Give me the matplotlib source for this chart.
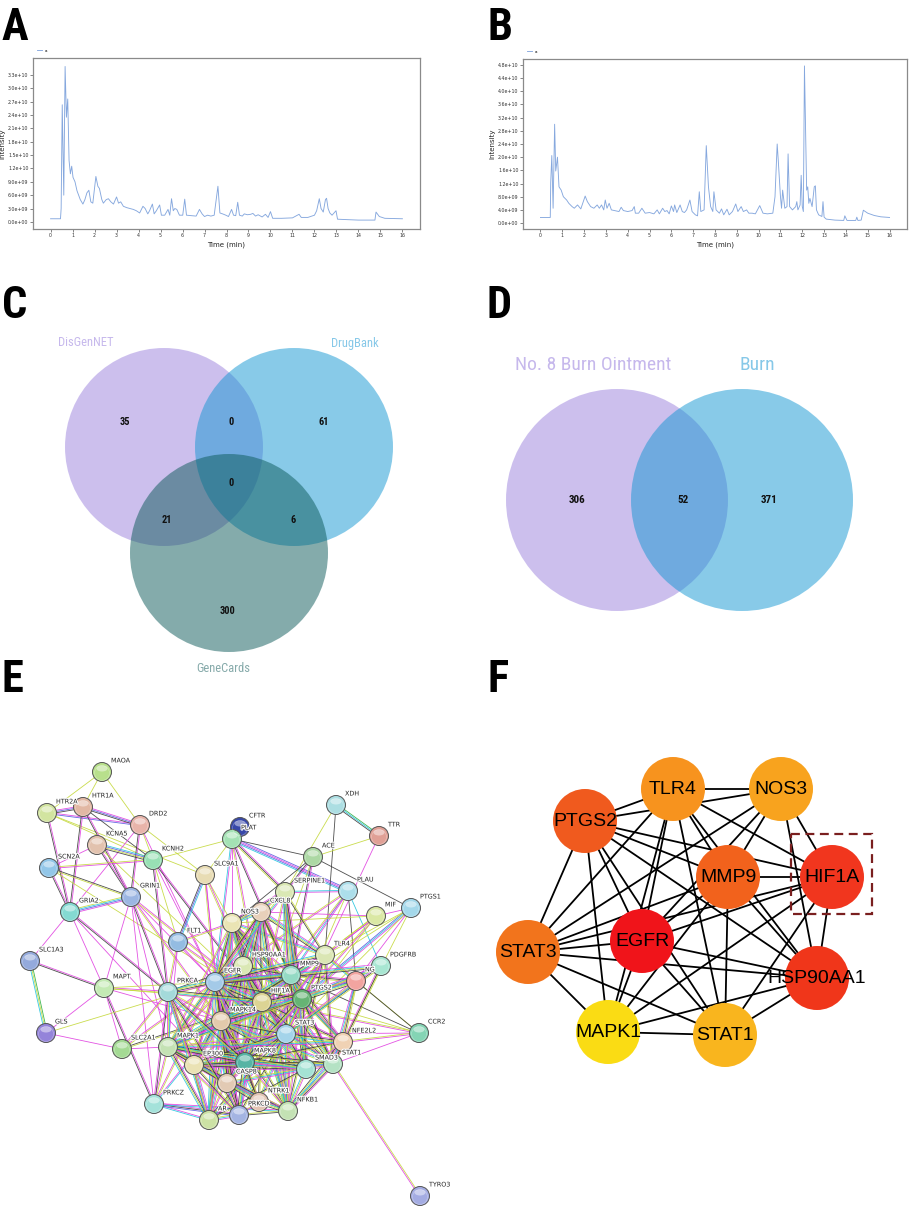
import numpy as np
import matplotlib
matplotlib.use("Agg")
import matplotlib.pyplot as plt
from matplotlib.patches import Circle, Rectangle, Ellipse
from matplotlib.collections import LineCollection
from matplotlib.ticker import FuncFormatter
from matplotlib import font_manager as fm
import matplotlib.patheffects as pe

# ---------------- DATA ----------------
# Panel A chromatogram (time in min, intensity in 1e9)
A_time = [0.0, 0.45, 0.48, 0.53, 0.6, 0.66, 0.72, 0.78, 0.84, 0.9, 0.96, 1.02, 1.11, 1.2, 1.35, 1.47, 1.56,
          1.65, 1.74, 1.83, 1.92, 2.06, 2.15, 2.22, 2.33, 2.4, 2.53, 2.63, 2.74, 2.86, 3.0, 3.09, 3.19, 3.31,
          3.46, 3.61, 3.76, 3.9, 4.05, 4.2, 4.3, 4.42, 4.5, 4.63, 4.71, 4.81, 4.96, 5.04, 5.19, 5.34, 5.42,
          5.5, 5.58, 5.65, 5.74, 5.86, 6.01, 6.1, 6.18, 6.39, 6.62, 6.77, 6.89, 7.0, 7.14, 7.29, 7.44, 7.61,
          7.7, 7.82, 7.97, 8.09, 8.23, 8.32, 8.42, 8.51, 8.59, 8.72, 8.81, 8.95, 9.1, 9.2, 9.32, 9.44, 9.62,
          9.77, 9.89, 10.0, 10.1, 10.5, 11.0, 11.3, 11.4, 11.7, 12.0, 12.1, 12.22, 12.3, 12.4, 12.5, 12.55,
          12.62, 12.7, 12.8, 12.98, 13.05, 13.5, 14.0, 14.5, 14.75, 14.8, 14.95, 15.2, 16.0]
A_int = [0.7, 0.7, 3.0, 26.3, 6.0, 34.9, 23.5, 27.6, 13.8, 10.8, 12.5, 10.0, 9.0, 7.0, 5.0, 4.0, 5.0,
         6.5, 7.1, 4.5, 4.2, 10.2, 8.0, 7.5, 5.0, 4.2, 5.0, 5.2, 4.5, 4.0, 5.6, 4.2, 4.5, 3.5,
         3.2, 3.0, 2.8, 2.5, 2.0, 3.5, 3.0, 1.8, 2.5, 4.0, 1.8, 2.5, 3.8, 1.5, 1.5, 2.8, 1.5,
         5.2, 2.5, 3.0, 2.8, 1.5, 1.5, 5.1, 1.5, 1.4, 1.3, 2.8, 1.8, 1.2, 1.5, 1.3, 1.5, 8.0,
         2.0, 1.8, 1.5, 1.2, 2.8, 1.5, 1.4, 4.4, 1.5, 1.3, 1.8, 1.6, 1.7, 1.9, 1.3, 1.6, 1.1,
         1.7, 1.0, 2.3, 0.8, 0.8, 0.9, 1.7, 1.0, 1.0, 1.5, 2.5, 5.2, 3.0, 2.2, 5.0, 5.3,
         3.0, 2.0, 1.5, 2.5, 0.6, 0.5, 0.4, 0.4, 0.4, 2.2, 1.2, 0.8, 0.7]

# Panel B chromatogram
B_time = [0.0, 0.45, 0.47, 0.52, 0.58, 0.65, 0.7, 0.78, 0.85, 0.95, 1.05, 1.2, 1.3, 1.45, 1.55, 1.7, 1.85,
          2.05, 2.15, 2.3, 2.45, 2.6, 2.7, 2.8, 2.9, 2.97, 3.05, 3.15, 3.25, 3.4, 3.6, 3.7, 3.8, 4.0, 4.2,
          4.3, 4.35, 4.5, 4.65, 4.8, 5.0, 5.2, 5.35, 5.45, 5.6, 5.7, 5.8, 5.9, 6.0, 6.1, 6.15, 6.25, 6.4,
          6.5, 6.6, 6.7, 6.85, 6.95, 7.1, 7.2, 7.28, 7.35, 7.5, 7.6, 7.7, 7.8, 7.9, 7.95, 8.05, 8.2, 8.3,
          8.4, 8.55, 8.65, 8.8, 8.95, 9.05, 9.2, 9.3, 9.45, 9.55, 9.7, 9.85, 10.05, 10.2, 10.4, 10.65,
          10.75, 10.85, 10.9, 11.0, 11.05, 11.1, 11.2, 11.3, 11.35, 11.42, 11.55, 11.7, 11.75, 11.8, 11.9,
          11.95, 12.0, 12.05, 12.1, 12.2, 12.25, 12.3, 12.35, 12.45, 12.55, 12.6, 12.65, 12.75, 12.9,
          12.95, 13.0, 13.1, 13.5, 13.9, 13.95, 14.05, 14.45, 14.5, 14.55, 14.7, 14.8, 15.0, 15.3, 15.6, 16.0]
B_int = [1.7, 1.7, 12.2, 20.5, 4.5, 30.0, 15.8, 20.0, 11.0, 10.0, 8.0, 7.0, 6.0, 5.0, 4.5, 5.5, 4.3,
         8.2, 6.5, 5.0, 4.5, 5.5, 4.5, 5.5, 4.0, 7.0, 4.5, 6.0, 4.0, 3.8, 3.5, 4.8, 3.8, 3.5, 3.8,
         5.0, 3.0, 3.0, 4.5, 3.0, 3.2, 2.8, 4.0, 2.8, 4.5, 3.5, 3.8, 2.8, 5.2, 3.5, 5.5, 3.2, 5.5,
         3.5, 3.2, 4.0, 7.0, 3.5, 2.5, 2.2, 9.5, 3.5, 4.0, 23.5, 11.0, 5.0, 3.5, 9.5, 4.0, 3.0, 4.3,
         2.5, 4.2, 2.5, 3.5, 5.8, 3.5, 5.0, 3.5, 4.0, 3.0, 3.0, 2.8, 5.3, 3.0, 2.8, 3.0,
         8.0, 24.0, 19.0, 8.0, 4.5, 10.0, 4.5, 5.0, 21.0, 5.0, 4.0, 5.0, 6.5, 4.0, 5.5,
         14.5, 5.0, 3.5, 47.7, 10.0, 11.0, 6.0, 7.5, 5.0, 11.0, 11.3, 4.0, 2.5, 2.0,
         6.5, 1.8, 1.2, 0.9, 0.8, 2.2, 0.8, 0.8, 1.8, 0.8, 0.9, 3.9, 3.0, 2.3, 1.9, 1.7]

x_ticks = list(range(17))
A_yticks = [0, 3e9, 6e9, 9e9, 1.2e10, 1.5e10, 1.8e10, 2.1e10, 2.4e10, 2.7e10, 3.0e10, 3.3e10]
B_yticks = [0, 4e9, 8e9, 1.2e10, 1.6e10, 2.0e10, 2.4e10, 2.8e10, 3.2e10, 3.6e10, 4.0e10, 4.4e10, 4.8e10]

# Panel C Venn (3 sets)
C_sets = ["DisGenNET", "DrugBank", "GeneCards"]
C_counts = {"1": 35, "2": 61, "3": 300, "12": 0, "13": 21, "23": 6, "123": 0}
# Panel D Venn (2 sets)
D_sets = ["No. 8 Burn Ointment", "Burn"]
D_counts = {"1": 306, "12": 52, "2": 371}

# Panel E STRING network
E_nodes = ["MAOA", "HTR1A", "HTR2A", "DRD2", "KCNA5", "KCNH2", "SCN2A", "GRIN1", "GRIA2", "SLC9A1",
           "FLT1", "SLC1A3", "CFTR", "PLAT", "XDH", "TTR", "ACE", "SERPINE1", "PLAU", "PTGS1", "MIF",
           "CXCL8", "NOS3", "TLR4", "PDGFRB", "HSP90AA1", "MMP9", "EGFR", "NG", "HIF1A", "PTGS2",
           "MAPK14", "STAT3", "NFE2L2", "CCR2", "STAT1", "SMAD3", "MAPK8", "CASP8", "EP300", "MAPK1",
           "SLC2A1", "PRKCA", "MAPT", "GLS", "PRKCZ", "AR", "PRKCD", "NTRK1", "NFKB1", "TYRO3"]
E_x = [102, 83, 47, 140, 97, 153, 49, 131, 70, 205,
       178, 30, 240, 232, 336, 379, 313, 285, 348, 411, 376,
       261, 232, 325, 381, 243, 291, 215, 356, 262, 302,
       221, 286, 343, 419, 333, 306, 245, 227, 194, 168,
       122, 168, 104, 46, 154, 209, 239, 259, 288, 420]
E_y = [772, 807, 813, 825, 845, 860, 868, 897, 912, 875,
       942, 961, 827, 839, 805, 836, 857, 892, 891, 908, 916,
       912, 923, 955, 966, 966, 975, 982, 981, 1002, 999,
       1021, 1034, 1042, 1033, 1064, 1069, 1062, 1083, 1065, 1047,
       1049, 992, 988, 1033, 1104, 1120, 1115, 1102, 1111, 1196]
E_colors = ["#b8e08c", "#e2b8a4", "#d2e4a0", "#e8b4aa", "#e2c2ae", "#98e0b4", "#92c6e8", "#9cb6e2", "#84dad2", "#e8dcb4",
            "#94bce2", "#94aadc", "#3848a8", "#a4e2b4", "#acdee2", "#e0a096", "#acd8a4", "#dae8b4", "#acdeea", "#a4d8ea", "#dae8a4",
            "#e8d0ba", "#eae4b4", "#dae6b4", "#a8e6d2", "#dae8b4", "#94dac4", "#a4cae8", "#f2a4a0", "#dcd494", "#66b474",
            "#e2caac", "#a4d4ea", "#f0d2b4", "#84d4b4", "#b4e2c4", "#a4e2d4", "#56b4a4", "#e2cab4", "#eae2b4", "#c4e2b4",
            "#a4da94", "#a4dada", "#c4eab4", "#9484da", "#a4e2da", "#cce2a4", "#a4b4e2", "#e2c4b4", "#c4e2b4", "#a4ace2"]

E_edges_periph = [
    ("MAOA", "HTR2A", "y"), ("MAOA", "HTR1A", "y"), ("MAOA", "DRD2", "y"),
    ("HTR2A", "HTR1A", "mbk"), ("HTR2A", "DRD2", "mb"), ("HTR1A", "DRD2", "mbk"),
    ("HTR2A", "GRIA2", "mk"), ("HTR2A", "KCNH2", "y"), ("HTR2A", "SLC9A1", "y"),
    ("HTR1A", "GRIA2", "mk"), ("HTR1A", "GRIN1", "mk"), ("HTR1A", "KCNH2", "k"),
    ("DRD2", "GRIN1", "mk"), ("DRD2", "GRIA2", "m"), ("DRD2", "KCNH2", "y"), ("DRD2", "SLC9A1", "y"), ("DRD2", "EGFR", "m"),
    ("KCNA5", "KCNH2", "cbyk"), ("KCNA5", "SCN2A", "m"), ("KCNA5", "GRIN1", "mk"), ("KCNA5", "HIF1A", "y"),
    ("KCNH2", "SCN2A", "my"), ("KCNH2", "PLAT", "y"), ("KCNH2", "EGFR", "m"), ("KCNH2", "HIF1A", "mk"),
    ("KCNH2", "FLT1", "y"), ("KCNH2", "PRKCA", "mk"),
    ("SCN2A", "GRIA2", "mk"), ("SCN2A", "GRIN1", "ky"), ("SCN2A", "HIF1A", "y"),
    ("GRIN1", "GRIA2", "mbcy"), ("GRIN1", "MAPT", "m"), ("GRIN1", "EGFR", "m"), ("GRIN1", "HIF1A", "my"),
    ("GRIN1", "PRKCA", "mk"), ("GRIN1", "MAPK1", "m"), ("GRIN1", "PRKCZ", "m"), ("GRIN1", "MAPK14", "my"),
    ("GRIA2", "MAPT", "m"), ("GRIA2", "SLC1A3", "m"), ("GRIA2", "PRKCA", "mk"), ("GRIA2", "CASP8", "m"),
    ("SLC1A3", "MAPT", "mk"), ("SLC1A3", "GLS", "gyc"),
    ("MAPT", "GLS", "m"), ("MAPT", "PRKCA", "my"), ("MAPT", "PRKCZ", "mk"), ("MAPT", "EGFR", "y"),
    ("MAPT", "SLC2A1", "m"), ("MAPT", "MAPK14", "m"), ("MAPT", "HIF1A", "y"),
    ("GLS", "SLC2A1", "m"), ("GLS", "EGFR", "y"),
    ("SLC2A1", "HIF1A", "ky"), ("SLC2A1", "MAPK1", "m"), ("SLC2A1", "PRKCA", "my"), ("SLC2A1", "EGFR", "my"),
    ("PRKCZ", "MAPK1", "my"), ("PRKCZ", "PRKCA", "mk"), ("PRKCZ", "EGFR", "my"), ("PRKCZ", "AR", "mc"),
    ("PRKCZ", "PRKCD", "mkb"), ("PRKCZ", "NFKB1", "mc"), ("PRKCZ", "MAPK14", "mc"),
    ("CFTR", "PLAT", "m"),
    ("PLAT", "SERPINE1", "mky"), ("PLAT", "PLAU", "bmbc"), ("PLAT", "NOS3", "m"), ("PLAT", "ACE", "k"),
    ("PLAT", "SLC9A1", "y"), ("PLAT", "MMP9", "mk"), ("PLAT", "HIF1A", "my"), ("PLAT", "EGFR", "mc"),
    ("XDH", "TTR", "gck"), ("XDH", "SERPINE1", "y"), ("XDH", "TLR4", "k"),
    ("TTR", "ACE", "y"), ("TTR", "STAT3", "m"),
    ("ACE", "PTGS1", "k"), ("ACE", "SERPINE1", "mk"), ("ACE", "NOS3", "k"), ("ACE", "HIF1A", "y"), ("ACE", "MMP9", "mk"),
    ("PLAU", "SERPINE1", "mc"), ("PLAU", "MMP9", "mc"), ("PLAU", "EGFR", "my"), ("PLAU", "HIF1A", "my"),
    ("PLAU", "PDGFRB", "c"), ("PLAU", "STAT3", "y"), ("PLAU", "NG", "k"),
    ("PTGS1", "PTGS2", "mcb"), ("PTGS1", "MIF", "m"), ("PTGS1", "TLR4", "y"), ("PTGS1", "NG", "m"),
    ("PTGS1", "HIF1A", "y"), ("PTGS1", "STAT3", "y"), ("PTGS1", "NFE2L2", "y"),
    ("MIF", "TLR4", "my"), ("MIF", "CXCL8", "m"), ("MIF", "PTGS2", "my"), ("MIF", "NOS3", "y"),
    ("MIF", "STAT3", "y"), ("MIF", "HIF1A", "my"),
    ("CCR2", "STAT3", "m"), ("CCR2", "MMP9", "k"), ("CCR2", "HIF1A", "my"), ("CCR2", "TLR4", "y"),
    ("CCR2", "STAT1", "m"), ("CCR2", "NG", "k"), ("CCR2", "PTGS2", "y"), ("CCR2", "NFE2L2", "my"),
    ("TYRO3", "STAT1", "my"),
    ("SLC9A1", "NOS3", "y"), ("SLC9A1", "FLT1", "cbk"), ("SLC9A1", "HIF1A", "my"), ("SLC9A1", "EGFR", "my"),
    ("SLC9A1", "MAPK14", "m"),
    ("FLT1", "EGFR", "m"), ("FLT1", "HIF1A", "my"), ("FLT1", "NOS3", "my"), ("FLT1", "MAPK1", "m"), ("FLT1", "PRKCA", "my"),
]

E_core_adj = {
    "NOS3": ["HSP90AA1", "EGFR", "HIF1A", "MMP9", "PTGS2", "STAT3", "TLR4", "MAPK14", "CXCL8", "SERPINE1",
             "MAPK1", "STAT1", "NFE2L2", "CASP8", "EP300", "AR", "NFKB1"],
    "CXCL8": ["SERPINE1", "TLR4", "HIF1A", "MMP9", "PTGS2", "STAT3", "NFKB1", "EGFR", "MAPK14", "STAT1",
              "MAPK8", "MAPK1", "HSP90AA1", "CASP8"],
    "SERPINE1": ["HIF1A", "MMP9", "TLR4", "EGFR", "SMAD3", "STAT3", "PTGS2"],
    "HSP90AA1": ["EGFR", "HIF1A", "MMP9", "PTGS2", "STAT3", "MAPK14", "EP300", "MAPK1", "AR", "PRKCA",
                 "NFKB1", "CASP8", "MAPK8"],
    "MMP9": ["EGFR", "HIF1A", "PTGS2", "STAT3", "TLR4", "NG", "MAPK14", "MAPK1", "NFKB1", "SMAD3", "MAPK8",
             "STAT1", "NFE2L2"],
    "TLR4": ["HIF1A", "PTGS2", "STAT3", "MAPK14", "NFKB1", "MAPK8", "STAT1", "NG", "EGFR", "CASP8"],
    "EGFR": ["HIF1A", "PTGS2", "STAT3", "MAPK14", "MAPK1", "PRKCA", "EP300", "MAPK8", "STAT1", "SMAD3",
             "PRKCD", "AR", "CASP8", "NTRK1", "PDGFRB", "NFKB1"],
    "HIF1A": ["PTGS2", "STAT3", "MAPK14", "MAPK1", "EP300", "MAPK8", "STAT1", "SMAD3", "NFE2L2", "NFKB1",
              "CASP8", "AR", "PRKCA", "NTRK1", "PRKCD", "NG"],
    "PTGS2": ["STAT3", "MAPK14", "NFKB1", "MAPK8", "MAPK1", "NFE2L2", "STAT1", "PDGFRB", "SMAD3", "CASP8", "NG"],
    "MAPK14": ["STAT3", "MAPK1", "MAPK8", "EP300", "CASP8", "PRKCA", "SMAD3", "NFKB1", "STAT1", "PRKCD",
               "AR", "NTRK1"],
    "STAT3": ["MAPK1", "EP300", "MAPK8", "STAT1", "SMAD3", "NFKB1", "NFE2L2", "CASP8", "AR", "PRKCD", "NTRK1",
              "PDGFRB", "NG"],
    "NFE2L2": ["STAT1", "SMAD3", "NFKB1", "MAPK8", "MAPK1", "NG"],
    "STAT1": ["SMAD3", "NFKB1", "MAPK8", "EP300", "MAPK1", "NG", "PDGFRB"],
    "SMAD3": ["NFKB1", "EP300", "MAPK8", "MAPK1", "AR", "CASP8"],
    "MAPK8": ["EP300", "CASP8", "MAPK1", "NFKB1", "PRKCD", "NTRK1"],
    "CASP8": ["EP300", "NFKB1", "MAPK1", "PRKCD"],
    "EP300": ["MAPK1", "AR", "PRKCD", "NFKB1", "PRKCA"],
    "MAPK1": ["PRKCA", "AR", "PRKCD", "NTRK1", "NFKB1", "PDGFRB"],
    "PRKCA": ["PRKCD", "AR", "MAPK8"],
    "NTRK1": ["PRKCD", "NFKB1"],
    "PRKCD": ["NFKB1", "AR"],
}

# Panel F hub network
F_nodes = ["TLR4", "NOS3", "PTGS2", "MMP9", "HIF1A", "STAT3", "EGFR", "HSP90AA1", "MAPK1", "STAT1"]
F_colors = ["#F7931E", "#F8A31E", "#F05A1E", "#F2621C", "#F1361E", "#F2741C", "#F0141A", "#F0361A", "#FADC14", "#F9B51E"]
F_x = [673, 781, 585, 728, 832, 528, 642, 817, 608, 725]
F_y = [789, 789, 821, 877, 877, 952, 941, 978, 1032, 1035]
F_edges = [
    ("TLR4", "NOS3"), ("TLR4", "PTGS2"), ("TLR4", "MMP9"), ("TLR4", "HIF1A"), ("TLR4", "HSP90AA1"),
    ("TLR4", "STAT3"), ("TLR4", "EGFR"), ("TLR4", "STAT1"), ("TLR4", "MAPK1"),
    ("NOS3", "PTGS2"), ("NOS3", "MMP9"), ("NOS3", "HIF1A"), ("NOS3", "HSP90AA1"), ("NOS3", "STAT3"), ("NOS3", "EGFR"),
    ("PTGS2", "MMP9"), ("PTGS2", "HIF1A"), ("PTGS2", "HSP90AA1"), ("PTGS2", "EGFR"), ("PTGS2", "STAT3"),
    ("PTGS2", "MAPK1"), ("PTGS2", "STAT1"),
    ("MMP9", "HIF1A"), ("MMP9", "STAT3"), ("MMP9", "EGFR"), ("MMP9", "HSP90AA1"), ("MMP9", "STAT1"), ("MMP9", "MAPK1"),
    ("HIF1A", "STAT3"), ("HIF1A", "EGFR"), ("HIF1A", "HSP90AA1"), ("HIF1A", "MAPK1"), ("HIF1A", "STAT1"),
    ("STAT3", "EGFR"), ("STAT3", "HSP90AA1"), ("STAT3", "MAPK1"), ("STAT3", "STAT1"),
    ("EGFR", "HSP90AA1"), ("EGFR", "MAPK1"), ("EGFR", "STAT1"),
    ("HSP90AA1", "MAPK1"), ("HSP90AA1", "STAT1"),
    ("MAPK1", "STAT1"),
]
F_highlight = "HIF1A"

# ---------------- FONTS ----------------
def first_font(cands):
    for c in cands:
        try:
            fm.findfont(fm.FontProperties(family=c), fallback_to_default=False)
            return c
        except Exception:
            pass
    return None


NARROW_NAME = first_font(["Liberation Sans Narrow", "Roboto Condensed", "Noto Sans Condensed",
                          "Open Sans Condensed", "DejaVu Sans Condensed", "Noto Sans Display Condensed"])
if NARROW_NAME is None:
    NARROW = ["Roboto", "DejaVu Sans"]
    NSCALE = 0.86
else:
    NARROW = [NARROW_NAME, "DejaVu Sans"]
    NSCALE = 1.0

# ---------------- FIGURE ----------------
W, H = 913, 1211
fig = plt.figure(figsize=(W / 100, H / 100), dpi=100)


def px_axes(x0, y0, x1, y1):
    return fig.add_axes([x0 / W, 1 - y1 / H, (x1 - x0) / W, (y1 - y0) / H])


def chrom(ax, t, v, yticks, ylim):
    ax.plot(t, np.array(v) * 1e9, color="#86A8DE", lw=0.65, label="a")
    ax.set_xlim(-0.8, 16.8)
    ax.set_ylim(*ylim)
    ax.set_xticks(x_ticks)
    ax.set_yticks(yticks)
    ax.yaxis.set_major_formatter(FuncFormatter(lambda val, p: f"{val:.1e}"))
    for s in ax.spines.values():
        s.set_color("#8a8a8a")
        s.set_linewidth(0.9)
    ax.tick_params(labelsize=3.4, length=2, width=0.5, color="#555555", pad=1.2, labelcolor="#333333")
    ax.set_xlabel("Time (min)", fontsize=5, labelpad=2, color="#222222")
    ax.set_ylabel("Intensity", fontsize=5, labelpad=1.5, color="#222222")
    ax.legend(loc="lower left", bbox_to_anchor=(0.0, 1.01), fontsize=3, frameon=False,
              handlelength=1.2, borderaxespad=0.5)


axA = px_axes(33, 58, 420, 229)
chrom(axA, A_time, A_int, A_yticks, (-1.6e9, 3.68e10))
axB = px_axes(523, 59, 907, 229)
chrom(axB, B_time, B_int, B_yticks, (-1.8e9, 4.98e10))

# Panel letters
for letter, x, y in [("A", 2, 40), ("B", 488, 40), ("C", 2, 318), ("D", 486, 318), ("E", 2, 692), ("F", 487, 692)]:
    fig.text(x / W, 1 - y / H, letter, fontsize=32 * NSCALE, family=NARROW, fontweight="bold",
             va="baseline", ha="left", color="black")

# ---- Panel C ----
axC = px_axes(0, 320, 450, 690)
axC.set_xlim(0, 450)
axC.set_ylim(690, 320)
axC.axis("off")
c_purple, c_blue, c_gene = "#9B81DD", "#1397D3", "#0B5959"
for (cx, cy), col in zip([(164, 447), (294, 447), (229, 553)], [c_purple, c_blue, c_gene]):
    axC.add_patch(Circle((cx, cy), 99, facecolor=col, alpha=0.5, edgecolor="none"))
C_label_pos = {"1": (125, 422), "12": (231, 422), "2": (324, 422), "123": (231, 483),
               "13": (167, 520), "23": (293, 520), "3": (227, 611)}
for k, (x, y) in C_label_pos.items():
    axC.text(x, y, str(C_counts[k]), ha="center", va="center", fontsize=7.5 * NSCALE, family=NARROW,
             fontweight="bold", color="#111111")
for name, (x, y), col in zip(C_sets, [(86, 343), (355, 343), (223, 668)], ["#C6B8EC", "#86C8E8", "#86AAAA"]):
    axC.text(x, y, name, ha="center", va="center", fontsize=9 * NSCALE, family=NARROW, color=col)

# ---- Panel D ----
axD = px_axes(460, 320, 913, 690)
axD.set_xlim(460, 913)
axD.set_ylim(690, 320)
axD.axis("off")
for (cx, cy), col in zip([(617, 500), (742, 500)], [c_purple, c_blue]):
    axD.add_patch(Circle((cx, cy), 111, facecolor=col, alpha=0.5, edgecolor="none"))
for k, (x, y) in {"1": (577, 500), "12": (683, 500), "2": (769, 500)}.items():
    axD.text(x, y, str(D_counts[k]), ha="center", va="center", fontsize=8 * NSCALE, family=NARROW,
             fontweight="bold", color="#111111")
for name, x, col in zip(D_sets, [593, 757], ["#C6B8EC", "#86C8E8"]):
    axD.text(x, 365, name, ha="center", va="center", fontsize=(14 if NSCALE == 1.0 else 11.5),
             family=NARROW, color=col)

# ---- Panel E ----
axE = px_axes(0, 700, 460, 1211)
axE.set_xlim(0, 460)
axE.set_ylim(1211, 700)
axE.axis("off")
pos = {n: (x, y) for n, x, y in zip(E_nodes, E_x, E_y)}
code_col = {"m": "#E040E0", "y": "#C4D83A", "c": "#22C4DE", "k": "#3A3A3A", "b": "#5858E0", "g": "#2EAE40"}
core_codes = ["mky", "myc", "mkyc", "my", "mcyk", "yk", "mcy"]
edges = list(E_edges_periph)
i = 0
for a, nbrs in E_core_adj.items():
    for b in nbrs:
        edges.append((a, b, core_codes[i % len(core_codes)]))
        i += 1
segs, cols = [], []
for a, b, codes in edges:
    (x1, y1), (x2, y2) = pos[a], pos[b]
    d = np.hypot(x2 - x1, y2 - y1)
    nx, ny = -(y2 - y1) / d, (x2 - x1) / d
    n = len(codes)
    for j, c in enumerate(codes):
        off = (j - (n - 1) / 2) * 1.25
        segs.append([(x1 + nx * off, y1 + ny * off), (x2 + nx * off, y2 + ny * off)])
        cols.append(code_col[c])
axE.add_collection(LineCollection(segs, colors=cols, linewidths=0.6, alpha=0.9, zorder=1))
for n, x, y, col in zip(E_nodes, E_x, E_y, E_colors):
    axE.add_patch(Circle((x, y), 9.5, facecolor=col, edgecolor="#555555", lw=0.7, zorder=3))
    axE.add_patch(Ellipse((x, y - 3.5), 11, 6, facecolor="white", alpha=0.45, edgecolor="none", zorder=4))
    axE.add_patch(Circle((x, y + 1), 7.5, facecolor="none", edgecolor="white", lw=0.4, alpha=0.4, zorder=4))
for n, x, y in zip(E_nodes, E_x, E_y):
    axE.text(x + 9, y - 11, n, fontsize=4.6, color="#222222", ha="left", va="center", zorder=5,
             path_effects=[pe.withStroke(linewidth=1.6, foreground="white")])

# ---- Panel F ----
axF = px_axes(450, 700, 913, 1211)
axF.set_xlim(450, 913)
axF.set_ylim(1211, 700)
axF.axis("off")
fpos = {n: (x, y) for n, x, y in zip(F_nodes, F_x, F_y)}
fsegs = [[fpos[a], fpos[b]] for a, b in F_edges]
axF.add_collection(LineCollection(fsegs, colors="black", linewidths=1.3, zorder=1))
for n, x, y, col in zip(F_nodes, F_x, F_y, F_colors):
    axF.add_patch(Circle((x, y), 32, facecolor=col, edgecolor="none", zorder=2))
for n, x, y in zip(F_nodes, F_x, F_y):
    axF.text(x, y, n, fontsize=14, family=["Liberation Sans", "DejaVu Sans"], ha="center", va="center",
             color="black", zorder=5)
hx, hy = fpos[F_highlight]
axF.add_patch(Rectangle((hx - 41, hy - 43), 81, 80, facecolor="none", edgecolor="#7A1F1F", lw=1.6,
                        linestyle=(0, (4, 2.5)), zorder=6))

fig.savefig("out.png", dpi=100)
